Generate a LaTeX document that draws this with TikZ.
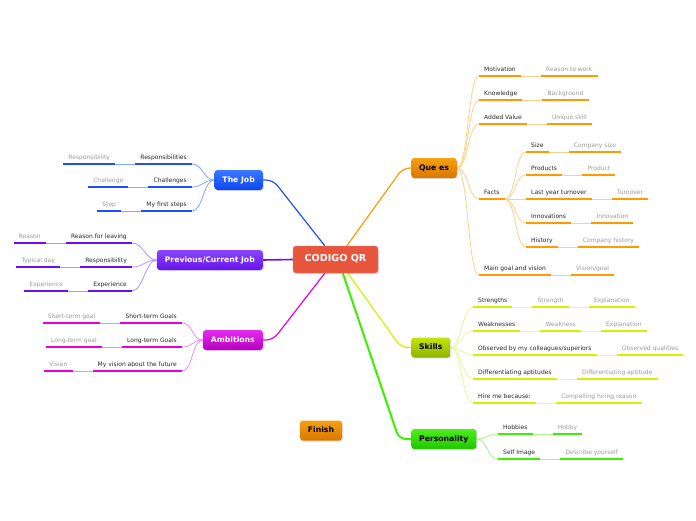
\documentclass[tikz,border=0pt]{standalone}
\usepackage{fontspec}
\setmainfont{DejaVu Sans}
\usetikzlibrary{positioning, shadows, backgrounds}

\definecolor{qrc}{HTML}{E8553D}
\definecolor{jobt}{HTML}{3A78FF}\definecolor{jobb}{HTML}{0D47F0}
\definecolor{jobu}{HTML}{1E4EFF}\definecolor{jobl}{HTML}{85A6FF}
\definecolor{prevt}{HTML}{8B45FF}\definecolor{prevb}{HTML}{6614E8}
\definecolor{prevu}{HTML}{6A0FEF}\definecolor{prevl}{HTML}{B490FF}
\definecolor{ambt}{HTML}{E62BEE}\definecolor{ambb}{HTML}{B700BF}
\definecolor{ambu}{HTML}{E600E6}\definecolor{ambl}{HTML}{F08CF0}
\definecolor{quet}{HTML}{F5A011}\definecolor{queb}{HTML}{D97700}
\definecolor{queu}{HTML}{FF9A00}\definecolor{quel}{HTML}{FFCF8A}
\definecolor{skt}{HTML}{C2E60A}\definecolor{skb}{HTML}{8FB300}
\definecolor{sku}{HTML}{CCF500}\definecolor{skl}{HTML}{E4F79A}
\definecolor{pet}{HTML}{4CF01A}\definecolor{peb}{HTML}{22C400}
\definecolor{peu}{HTML}{3CF000}\definecolor{pel}{HTML}{A5F58A}

\begin{document}
\begin{tikzpicture}[x=1pt, y=-1pt,
  node distance=20pt,
  topic/.style={rounded corners=3pt, font=\bfseries\fontsize{7.7}{9}\selectfont, inner xsep=8pt, minimum height=20pt, text height=5.6pt, text depth=1.6pt, drop shadow={shadow xshift=1pt, shadow yshift=-1.2pt, opacity=0.25}},
  leaf/.style={font=\fontsize{6}{7}\selectfont, text=black!85, inner xsep=5pt, inner ysep=2.5pt, text height=4.4pt, text depth=1.4pt, append after command={(\tikzlastnode.south west) edge[draw=#1, line width=2.4pt] (\tikzlastnode.south east)}},
  note/.style={leaf=#1, text=black!40},
  twig/.style={draw=#1, line width=0.8pt},
  fork/.style={to path={.. controls +(#1,0) and +(-#1,0) .. (\tikztotarget)}},
  limb/.style={draw=#1, line width=1.2pt, rounded corners=7pt}]

  \useasboundingbox (0,0) rectangle (696,520);

  % centre and main topics
  \node[topic, font=\bfseries\fontsize{9.6}{11}\selectfont, fill=qrc, draw=qrc!75!white, text=white, minimum width=85pt, minimum height=27pt] (qr) at (335.5,259.5) {CODIGO QR};
  \node[topic, top color=jobt, bottom color=jobb, text=white, anchor=east] (job) at (263,180) {The Job};
  \node[topic, top color=prevt, bottom color=prevb, text=white, anchor=east] (prev) at (263,260) {Previous/Current Job};
  \node[topic, top color=ambt, bottom color=ambb, text=white, anchor=east] (amb) at (263,340) {Ambitions};
  \node[topic, top color=quet, bottom color=queb, anchor=west] (que) at (411,168) {Que es};
  \node[topic, top color=skt, bottom color=skb, anchor=west] (skills) at (411,347.5) {Skills};
  \node[topic, top color=pet, bottom color=peb, anchor=west] (pers) at (411,439) {Personality};
  \node[topic, top color=quet, bottom color=queb] (finish) at (321,430.5) {Finish};

  % The Job
  \node[leaf=jobu, anchor=south east] (resp) at (192,164) {Responsibilities};
  \node[note=jobu, left=of resp] (respn) {Responsibility};
  \node[leaf=jobu, anchor=south east] (chal) at (192,187) {Challenges};
  \node[note=jobu, left=of chal] (chaln) {Challenge};
  \node[leaf=jobu, anchor=south east] (steps) at (192,211) {My first steps};
  \node[note=jobu, left=of steps] (stepsn) {Step};

  % Previous/Current Job
  \node[leaf=prevu, anchor=south east] (leave) at (132,243) {Reason for leaving};
  \node[note=prevu, left=of leave] (leaven) {Reason};
  \node[leaf=prevu, anchor=south east] (duty) at (132,267) {Responsibility};
  \node[note=prevu, left=of duty] (dutyn) {Typical day};
  \node[leaf=prevu, anchor=south east] (exp) at (132,291) {Experience};
  \node[note=prevu, left=of exp] (expn) {Experience};

  % Ambitions
  \node[leaf=ambu, anchor=south east] (short) at (182,323) {Short-term Goals};
  \node[note=ambu, left=of short] (shortn) {Short-term goal};
  \node[leaf=ambu, anchor=south east] (long) at (182,347) {Long-term Goals};
  \node[note=ambu, left=of long] (longn) {Long-term goal};
  \node[leaf=ambu, anchor=south east] (vision) at (182,371) {My vision about the future};
  \node[note=ambu, left=of vision] (visionn) {Vision};

  % Que es
  \node[leaf=queu, anchor=south west] (motiv) at (479,76) {Motivation};
  \node[note=queu, right=of motiv] (motivn) {Reason to work};
  \node[leaf=queu, anchor=south west] (know) at (479,100) {Knowledge};
  \node[note=queu, right=of know] (known) {Background};
  \node[leaf=queu, anchor=south west] (added) at (479,124) {Added Value};
  \node[note=queu, right=of added] (addedn) {Unique skill};
  \node[leaf=queu, anchor=south west] (facts) at (479,199) {Facts};
  \node[leaf=queu, anchor=south west] (size) at (526,152) {Size};
  \node[note=queu, right=of size] (sizen) {Company size};
  \node[leaf=queu, anchor=south west] (prod) at (526,175) {Products};
  \node[note=queu, right=of prod] (prodn) {Product};
  \node[leaf=queu, anchor=south west] (turn) at (526,199) {Last year turnover};
  \node[note=queu, right=of turn] (turnn) {Turnover};
  \node[leaf=queu, anchor=south west] (innov) at (526,223) {Innovations};
  \node[note=queu, right=of innov] (innovn) {Innovation};
  \node[leaf=queu, anchor=south west] (hist) at (526,247) {History};
  \node[note=queu, right=of hist] (histn) {Company history};
  \node[leaf=queu, anchor=south west] (goal) at (479,275) {Main goal and vision};
  \node[note=queu, right=of goal] (goaln) {Vision/goal};

  % Skills
  \node[leaf=sku, anchor=south west] (strong) at (473,307) {Strengths};
  \node[note=sku, right=of strong] (strongn) {Strength};
  \node[note=sku, right=of strongn] (strongx) {Explanation};
  \node[leaf=sku, anchor=south west] (weak) at (473,331) {Weaknesses};
  \node[note=sku, right=of weak] (weakn) {Weakness};
  \node[note=sku, right=of weakn] (weakx) {Explanation};
  \node[leaf=sku, anchor=south west] (obs) at (473,355) {Observed by my colleagues/superiors};
  \node[note=sku, right=of obs] (obsn) {Observed qualities};
  \node[leaf=sku, anchor=south west] (diff) at (473,379) {Differentiating aptitudes};
  \node[note=sku, right=of diff] (diffn) {Differentiating aptitude};
  \node[leaf=sku, anchor=south west] (hire) at (473,403) {Hire me because:};
  \node[note=sku, right=of hire] (hiren) {Compelling hiring reason};

  % Personality
  \node[leaf=peu, anchor=south west] (hobby) at (498,434) {Hobbies};
  \node[note=peu, right=of hobby] (hobbyn) {Hobby};
  \node[leaf=peu, anchor=south west] (self) at (498,459) {Self Image};
  \node[note=peu, right=of self] (selfn) {Describe yourself};

  \begin{scope}[on background layer]
    % from the centre
    \draw[limb=jobu] (job.east) -- ++(10,0) -- ([xshift=32pt]qr.north west);
    \draw[limb=prevu, line width=1.6pt] (prev.east) -- (qr.west);
    \draw[limb=ambu] (amb.east) -- ++(10,0) -- ([xshift=32pt]qr.south west);
    \draw[limb=queu] (que.west) -- ++(-8,0) -- ([xshift=54pt]qr.north west);
    \draw[limb=sku] (skills.west) -- ++(-10,0) -- ([xshift=55pt]qr.south west);
    \draw[limb=peu, line width=2pt] (pers.west) -- ++(-12,0) -- ([xshift=50pt]qr.south west);

    % The Job
    \draw[twig=jobl, fork=-11] (job.west) to (resp.south east);
    \draw[twig=jobl, fork=-11] (job.west) to (chal.south east);
    \draw[twig=jobl, fork=-11] (job.west) to (steps.south east);
    \draw[twig=jobl] (respn.south east) -- (resp.south west);
    \draw[twig=jobl] (chaln.south east) -- (chal.south west);
    \draw[twig=jobl] (stepsn.south east) -- (steps.south west);

    % Previous/Current Job
    \draw[twig=prevl, fork=-11] (prev.west) to (leave.south east);
    \draw[twig=prevl, fork=-11] (prev.west) to (duty.south east);
    \draw[twig=prevl, fork=-11] (prev.west) to (exp.south east);
    \draw[twig=prevl] (leaven.south east) -- (leave.south west);
    \draw[twig=prevl] (dutyn.south east) -- (duty.south west);
    \draw[twig=prevl] (expn.south east) -- (exp.south west);

    % Ambitions
    \draw[twig=ambl, fork=-11] (amb.west) to (short.south east);
    \draw[twig=ambl, fork=-11] (amb.west) to (long.south east);
    \draw[twig=ambl, fork=-11] (amb.west) to (vision.south east);
    \draw[twig=ambl] (shortn.south east) -- (short.south west);
    \draw[twig=ambl] (longn.south east) -- (long.south west);
    \draw[twig=ambl] (visionn.south east) -- (vision.south west);

    % Que es
    \draw[twig=quel, fork=11] (que.east) to (motiv.south west);
    \draw[twig=quel, fork=11] (que.east) to (know.south west);
    \draw[twig=quel, fork=11] (que.east) to (added.south west);
    \draw[twig=quel, fork=11] (que.east) to (facts.south west);
    \draw[twig=quel, fork=11] (que.east) to (goal.south west);
    \draw[twig=quel, fork=11] (facts.south east) to (size.south west);
    \draw[twig=quel, fork=11] (facts.south east) to (prod.south west);
    \draw[twig=quel, fork=11] (facts.south east) to (turn.south west);
    \draw[twig=quel, fork=11] (facts.south east) to (innov.south west);
    \draw[twig=quel, fork=11] (facts.south east) to (hist.south west);
    \draw[twig=quel] (motiv.south east) -- (motivn.south west);
    \draw[twig=quel] (know.south east) -- (known.south west);
    \draw[twig=quel] (added.south east) -- (addedn.south west);
    \draw[twig=quel] (size.south east) -- (sizen.south west);
    \draw[twig=quel] (prod.south east) -- (prodn.south west);
    \draw[twig=quel] (turn.south east) -- (turnn.south west);
    \draw[twig=quel] (innov.south east) -- (innovn.south west);
    \draw[twig=quel] (hist.south east) -- (histn.south west);
    \draw[twig=quel] (goal.south east) -- (goaln.south west);

    % Skills
    \draw[twig=skl, fork=11] (skills.east) to (strong.south west);
    \draw[twig=skl, fork=11] (skills.east) to (weak.south west);
    \draw[twig=skl, fork=11] (skills.east) to (obs.south west);
    \draw[twig=skl, fork=11] (skills.east) to (diff.south west);
    \draw[twig=skl, fork=11] (skills.east) to (hire.south west);
    \draw[twig=skl] (strong.south east) -- (strongn.south west);
    \draw[twig=skl] (strongn.south east) -- (strongx.south west);
    \draw[twig=skl] (weak.south east) -- (weakn.south west);
    \draw[twig=skl] (weakn.south east) -- (weakx.south west);
    \draw[twig=skl] (obs.south east) -- (obsn.south west);
    \draw[twig=skl] (diff.south east) -- (diffn.south west);
    \draw[twig=skl] (hire.south east) -- (hiren.south west);

    % Personality
    \draw[twig=pel, fork=11] (pers.east) to (hobby.south west);
    \draw[twig=pel, fork=11] (pers.east) to (self.south west);
    \draw[twig=pel] (hobby.south east) -- (hobbyn.south west);
    \draw[twig=pel] (self.south east) -- (selfn.south west);
  \end{scope}
\end{tikzpicture}
\end{document}
